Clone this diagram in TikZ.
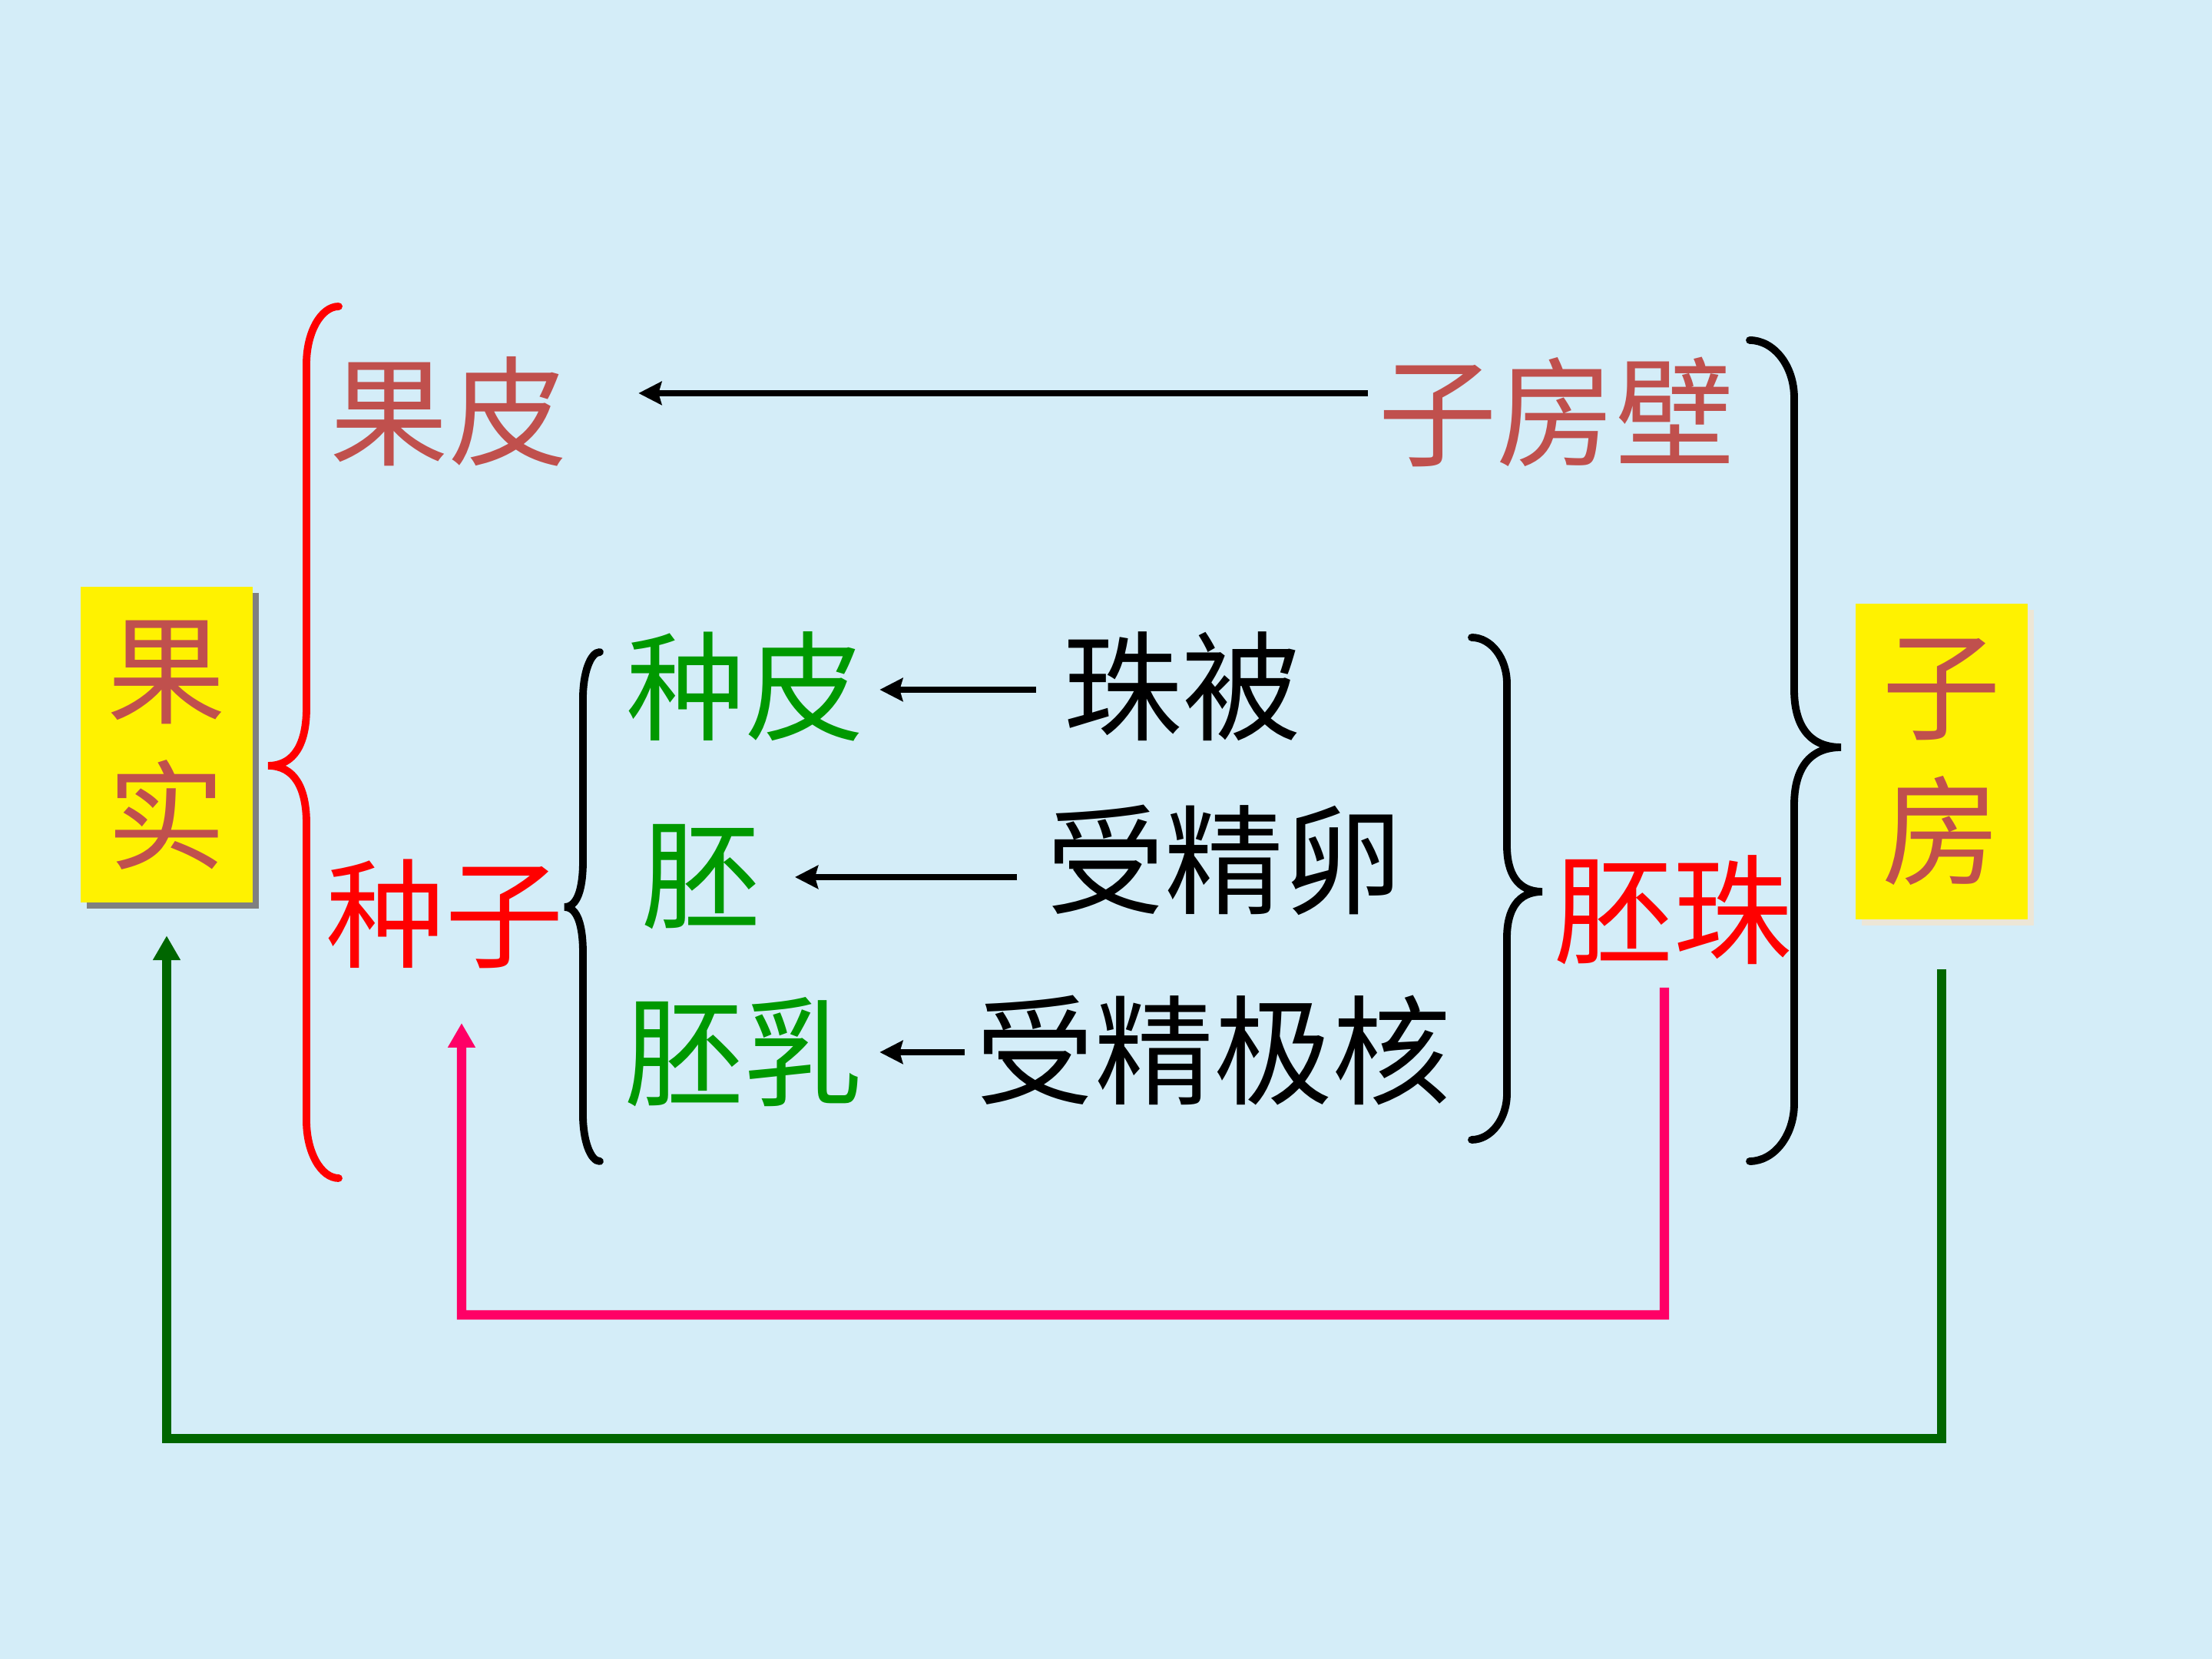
\documentclass[tikz,border=0pt]{standalone}
\usepackage{fontspec}
\setmainfont{Noto Sans CJK SC}
\usepackage{tikz}
\usetikzlibrary{arrows.meta,shadows}

\definecolor{bgblue}{HTML}{D4EDF8}
\definecolor{brick}{HTML}{C0504D}
\definecolor{leaf}{HTML}{009900}
\definecolor{rose}{HTML}{FF0066}
\definecolor{forest}{HTML}{006600}
\definecolor{cream}{HTML}{EDE6D6}

% brace: colour, corner, end x, spine x, tip x, top y, tip y, bottom y
\newcommand{\drawbrace}[8]{%
  \draw[brace, #1] (#3,#6) .. controls ({#4+0.45*(#3-#4)},#6) and (#4,{#6-0.45*#2}) .. (#4,#6-#2)
    -- (#4,#7+#2) .. controls (#4,{#7+0.4*#2}) and ({#4+0.3*(#5-#4)},#7) .. (#5,#7)
    .. controls ({#4+0.3*(#5-#4)},#7) and (#4,{#7-0.4*#2}) .. (#4,#7-#2)
    -- (#4,#8+#2) .. controls (#4,{#8+0.45*#2}) and ({#4+0.45*(#3-#4)},#8) .. (#3,#8);}

\begin{document}
\begin{tikzpicture}[
    every node/.style={inner sep=0pt, font=\fontsize{44}{54}\selectfont},
    brace/.style={line width=2.8pt, line cap=round},
    blk/.style={line width=2.5pt, -{Stealth[length=3mm,width=3mm,inset=0.4mm]}},
    joint/.style={line width=3.5pt, -{Triangle[length=3.2mm,width=3.4mm]}},
    ybox/.style={fill=yellow, text=brick, align=center,
        minimum width=2.24cm, minimum height=4.11cm}]
        \useasboundingbox (0,0) rectangle (28.8,21.6);
        \fill[bgblue] (0,0) rectangle (28.8,21.6);

        % Boxes
        \node[ybox, drop shadow={shadow xshift=0.8mm, shadow yshift=-0.8mm,
            fill=gray, opacity=1}] (GS) at (2.17,11.9) {果\\实};
        \node[ybox, drop shadow={shadow xshift=0.8mm, shadow yshift=-0.8mm,
            fill=cream, opacity=1}] (ZF) at (25.28,11.68) {子\\房};

        % Top row
        \node[text=brick] (GP) at (5.84,16.24) {果皮};
        \node[text=brick] (ZFB) at (20.26,16.24) {子房壁};
        \draw[blk] ([xshift=-1.2mm, yshift=2.4mm]ZFB.west) -- ([xshift=9.2mm, yshift=2.4mm]GP.east);

        % Seed
        \node[text=red] (ZZ) at (5.79,9.70) {种子};
        \node[text=red] (PZ) at (21.78,9.75) {胚珠};

        \node[text=leaf] (ZP) at (9.70,12.66) {种皮};
        \node (ZB) at (15.39,12.66) {珠被};
        \draw[blk] ([xshift=-3.5mm, yshift=-0.4mm]ZB.west) -- ([xshift=2mm, yshift=-0.4mm]ZP.east);

        \node[text=leaf] (P) at (9.13,10.18) {胚};
        \node (SJL) at (15.94,10.40) {受精卵};
        \draw[blk] ([xshift=-3.7mm]SJL.west |- P.east) -- ([xshift=4.4mm]P.east);

        \node[text=leaf] (PR) at (9.68,7.90) {胚乳};
        \node (SJJH) at (15.80,7.92) {受精极核};
        \draw[blk] ([xshift=-1.4mm]SJJH.west |- PR.east) -- ([xshift=2.2mm]PR.east);

        % Braces
        \drawbrace{red}{0.75}{4.41}{3.99}{3.49}{17.61}{11.63}{6.26}
        \drawbrace{black}{0.6}{7.81}{7.59}{7.35}{13.11}{9.79}{6.48}
        \drawbrace{black}{0.6}{19.16}{19.62}{20.08}{13.30}{9.99}{6.76}
        \drawbrace{black}{0.75}{22.78}{23.36}{23.97}{17.17}{11.87}{6.48}

        % Return lines
        \coordinate (PinkStart) at (21.67,8.74);
        \coordinate (PinkLow) at (6.01,4.48);
        \draw[joint, rose] (PinkStart) |- (PinkLow) -- ([xshift=2.2mm, yshift=-14.2mm]ZZ.center);

        \coordinate (GreenLow) at (2.17,2.87);
        \draw[joint, forest] ([yshift=-6.4mm]ZF.south) |- (GreenLow) -- ([yshift=-4.2mm]GS.south);
    \end{tikzpicture}
\end{document}
